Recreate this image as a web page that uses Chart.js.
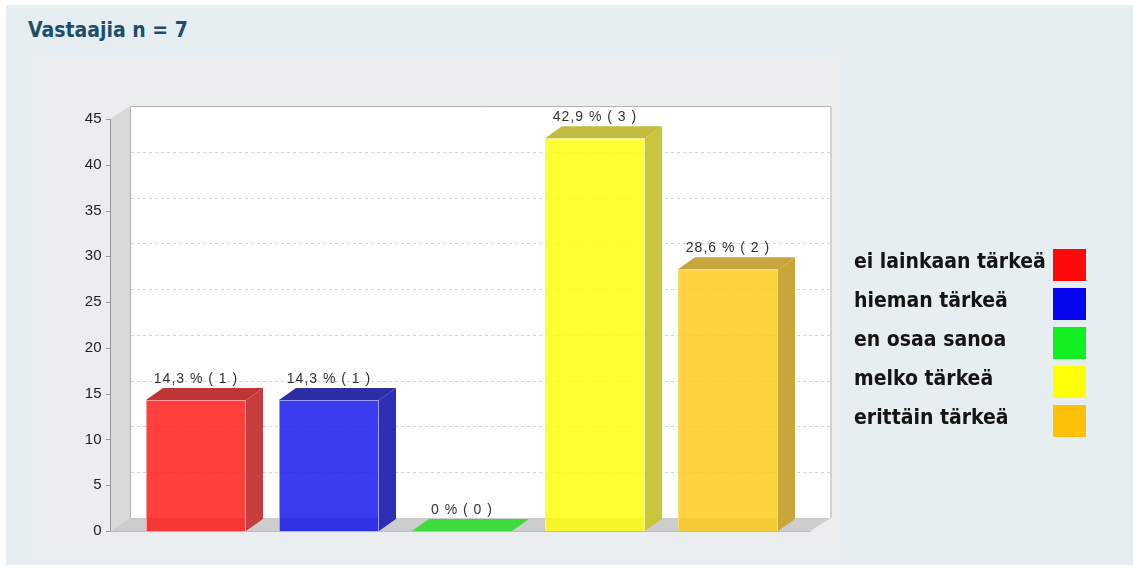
<!DOCTYPE html>
<html>
<head>
<meta charset="utf-8">
<script src="https://cdn.jsdelivr.net/npm/chart.js@4"></script>
<style>
  body { margin: 0; background: #ffffff; }
  #wrap { position: relative; width: 1133px; height: 568px; overflow: hidden; }
  #panel { position: absolute; left: 6px; top: 5px; right: 0; bottom: 3px; background: #e6eef1; }
  #inner { position: absolute; left: 33px; top: 57px; width: 805px; height: 498px; background: #eaeeee; }
  #title { position: absolute; left: 28px; top: 18px; line-height: 28px; font: bold 21px "DejaVu Sans Condensed", "DejaVu Sans", sans-serif; color: #1d4f6d; }
  canvas { position: absolute; left: 0; top: 0; }
  .row { position: absolute; left: 854px; height: 32px; line-height: 32px; font: bold 21px "DejaVu Sans Condensed", "DejaVu Sans", sans-serif; color: #141414; }
  .box { position: absolute; left: 1053px; width: 33px; height: 32px; }
</style>
</head>
<body>
<div id="wrap">
  <div id="panel"></div>
  <div id="inner"></div>
  <div id="title">Vastaajia n = 7</div>
  <canvas id="chart" width="1133" height="568"></canvas>
  <div id="legend"></div>
</div>
<script>
// data //
const categories = ['ei lainkaan tärkeä', 'hieman tärkeä', 'en osaa sanoa', 'melko tärkeä', 'erittäin tärkeä'];
const percents = [14.3, 14.3, 0, 42.9, 28.6];
const counts = [1, 1, 0, 3, 2];
const yTicks = [0, 5, 10, 15, 20, 25, 30, 35, 40, 45];

// colours: front face, side face, top face, legend box //
const frontColors = ['rgba(255,20,20,0.82)', 'rgba(10,10,236,0.8)', 'rgba(40,220,40,0.85)', 'rgba(255,255,0,0.8)', 'rgba(252,200,15,0.8)'];
const edgeColors = ['#ff9a9a', '#9a9aff', '#8aee8a', '#f4f49a', '#f6dc8a'];
const sideColors = ['#c53d3d', '#2f2fb5', '#2cb82c', '#c9c53c', '#c9a63a'];
const topColors = ['#bd3535', '#2d2da6', '#3ddb3d', '#c4bc40', '#c8a43c'];
const legendColors = ['#ff0a0a', '#0505ee', '#10ee20', '#ffff05', '#fec10a'];

const DX = 17, DY = 12;    // bar depth
const WX = 20, WY = 13;    // wall depth

// legend //
const legend = document.getElementById('legend');
categories.forEach((c, i) => {
    const top = 249 + i * 39;
    const row = document.createElement('div');
    row.className = 'row';
    row.style.top = top + 'px';
    row.textContent = c;
    legend.appendChild(row);
    const box = document.createElement('div');
    box.className = 'box';
    box.style.top = top + 'px';
    box.style.background = legendColors[i];
    legend.appendChild(box);
});

const fmt = v => String(v).replace('.', ',');

const box3d = {
    id: 'box3d',
    beforeDatasetsDraw(chart) {
        const ctx = chart.ctx;
        const y = chart.scales.y;
        const area = chart.chartArea;
        const left = 110;
        const right = area.right + 16;
        const top = y.getPixelForValue(45);
        const bottom = y.getPixelForValue(0);
        ctx.save();
        // back wall
        ctx.fillStyle = '#ffffff';
        ctx.fillRect(left + WX, top - WY, right - left, bottom - top);
        ctx.strokeStyle = '#b4b4b4';
        ctx.lineWidth = 1;
        ctx.beginPath();
        ctx.moveTo(left + WX + 0.5, bottom - WY);
        ctx.lineTo(left + WX + 0.5, top - WY + 0.5);
        ctx.lineTo(right + WX + 0.5, top - WY + 0.5);
        ctx.lineTo(right + WX + 0.5, bottom - WY);
        ctx.stroke();
        // gridlines on back wall
        ctx.strokeStyle = '#d4d4d4';
        ctx.setLineDash([3, 3]);
        yTicks.forEach(v => {
            if (v === 0 || v === 45) return;
            const py = Math.round(y.getPixelForValue(v) - WY) + 0.5;
            ctx.beginPath();
            ctx.moveTo(left + WX + 1, py);
            ctx.lineTo(right + WX, py);
            ctx.stroke();
        });
        ctx.setLineDash([]);
        // left wall
        ctx.fillStyle = '#d9d9d9';
        ctx.beginPath();
        ctx.moveTo(left, bottom);
        ctx.lineTo(left, top);
        ctx.lineTo(left + WX, top - WY);
        ctx.lineTo(left + WX, bottom - WY);
        ctx.closePath();
        ctx.fill();
        // floor
        ctx.fillStyle = '#cdcdcd';
        ctx.beginPath();
        ctx.moveTo(left, bottom);
        ctx.lineTo(left + WX, bottom - WY);
        ctx.lineTo(right + WX, bottom - WY);
        ctx.lineTo(right, bottom);
        ctx.closePath();
        ctx.fill();
        // y axis line and tick marks
        ctx.strokeStyle = '#999999';
        ctx.beginPath();
        ctx.moveTo(left + 0.5, top);
        ctx.lineTo(left + 0.5, bottom + 0.5);
        yTicks.forEach(v => {
            const py = Math.round(y.getPixelForValue(v)) + 0.5;
            ctx.moveTo(left - 4, py);
            ctx.lineTo(left + 0.5, py);
        });
        ctx.stroke();
        ctx.beginPath();
        ctx.moveTo(left, bottom + 0.5);
        ctx.lineTo(right, bottom + 0.5);
        ctx.strokeStyle = '#bbbbbb';
        ctx.stroke();
        ctx.restore();
    },
    afterDatasetsDraw(chart) {
        const ctx = chart.ctx;
        const meta = chart.getDatasetMeta(0);
        ctx.save();
        meta.data.forEach((bar, i) => {
            const p = bar.getProps(['x', 'y', 'base', 'width'], true);
            const x0 = p.x - p.width / 2, x1 = p.x + p.width / 2;
            // side face
            if (p.base - p.y > 0.5) {
                ctx.fillStyle = sideColors[i];
                ctx.beginPath();
                ctx.moveTo(x1, p.y);
                ctx.lineTo(x1 + DX, p.y - DY);
                ctx.lineTo(x1 + DX, p.base - DY);
                ctx.lineTo(x1, p.base);
                ctx.closePath();
                ctx.fill();
            }
            // top face
            ctx.fillStyle = topColors[i];
            ctx.beginPath();
            ctx.moveTo(x0, p.y);
            ctx.lineTo(x0 + DX, p.y - DY);
            ctx.lineTo(x1 + DX, p.y - DY);
            ctx.lineTo(x1, p.y);
            ctx.closePath();
            ctx.fill();
            // value label
            ctx.fillStyle = '#333333';
            ctx.font = '14px "Liberation Sans", Arial, sans-serif';
            ctx.letterSpacing = '1px';
            ctx.textAlign = 'center';
            ctx.textBaseline = 'bottom';
            ctx.fillText(fmt(percents[i]) + ' % ( ' + counts[i] + ' )', p.x, p.y - DY - 2);
        });
        ctx.restore();
    }
};

new Chart(document.getElementById('chart'), {
    type: 'bar',
    data: {
        labels: categories,
        datasets: [{
            data: percents,
            backgroundColor: frontColors,
            borderColor: edgeColors,
            borderWidth: 1,
            barPercentage: 1,
            categoryPercentage: 100 / 133
        }]
    },
    options: {
        responsive: false,
        animation: false,
        events: [],
        layout: { padding: { left: 0, top: 119, right: 338.5, bottom: 36 } },
        plugins: { legend: { display: false }, tooltip: { enabled: false } },
        scales: {
            x: { display: false },
            y: {
                min: 0,
                max: 45,
                afterFit(scale) { scale.width = 129.5; },
                grid: { display: false, drawTicks: false },
                border: { display: false },
                ticks: {
                    stepSize: 5,
                    padding: 28,
                    color: '#222222',
                    font: { family: '"Liberation Sans", Arial, sans-serif', size: 15 }
                }
            }
        }
    },
    plugins: [box3d]
});
</script>
</body>
</html>
